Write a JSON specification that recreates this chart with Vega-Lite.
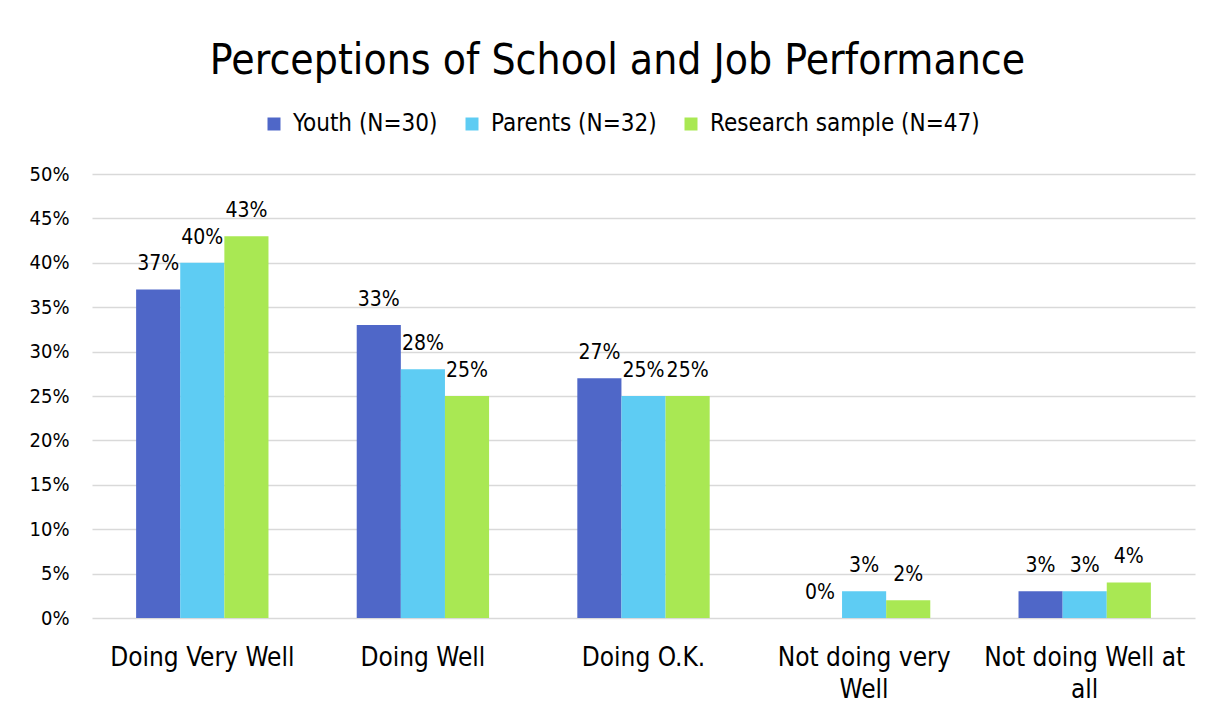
{
  "$schema": "https://vega.github.io/schema/vega-lite/v6.json",
  "width": 1103,
  "height": 444,
  "autosize": "none",
  "padding": {"left": 92, "top": 174, "right": 19, "bottom": 95},
  "background": "white",
  "title": {
    "text": "Perceptions of School and Job Performance",
    "fontSize": 42.3,
    "font": "DejaVu Sans Condensed, DejaVu Sans",
    "fontWeight": "normal",
    "color": "#000000",
    "anchor": "middle",
    "frame": "group",
    "dx": -26,
    "offset": 29
  },
  "data": {
    "values": [
      {"category": "Doing Very Well", "group": "Youth (N=30)", "value": 0.37},
      {"category": "Doing Very Well", "group": "Parents (N=32)", "value": 0.40},
      {"category": "Doing Very Well", "group": "Research sample (N=47)", "value": 0.43},
      {"category": "Doing Well", "group": "Youth (N=30)", "value": 0.33},
      {"category": "Doing Well", "group": "Parents (N=32)", "value": 0.28},
      {"category": "Doing Well", "group": "Research sample (N=47)", "value": 0.25},
      {"category": "Doing O.K.", "group": "Youth (N=30)", "value": 0.27},
      {"category": "Doing O.K.", "group": "Parents (N=32)", "value": 0.25},
      {"category": "Doing O.K.", "group": "Research sample (N=47)", "value": 0.25},
      {"category": "Not doing very|Well", "group": "Youth (N=30)", "value": 0.0},
      {"category": "Not doing very|Well", "group": "Parents (N=32)", "value": 0.03},
      {"category": "Not doing very|Well", "group": "Research sample (N=47)", "value": 0.02},
      {"category": "Not doing Well at|all", "group": "Youth (N=30)", "value": 0.03},
      {"category": "Not doing Well at|all", "group": "Parents (N=32)", "value": 0.03},
      {"category": "Not doing Well at|all", "group": "Research sample (N=47)", "value": 0.04}
    ]
  },
  "encoding": {
    "x": {
      "field": "category",
      "type": "nominal",
      "scale": {
        "domain": ["Doing Very Well", "Doing Well", "Doing O.K.", "Not doing very|Well", "Not doing Well at|all"],
        "paddingInner": 0.4,
        "paddingOuter": 0.2
      },
      "axis": {
        "title": null,
        "labelAngle": 0,
        "domain": false,
        "ticks": false,
        "labelFontSize": 26,
        "labelFont": "DejaVu Sans Condensed, DejaVu Sans",
        "labelColor": "#000000",
        "labelPadding": 26,
        "labelLineHeight": 32,
        "labelBaseline": "top",
        "labelLimit": 300,
        "labelExpr": "split(datum.label, '|')"
      }
    },
    "xOffset": {
      "field": "group",
      "type": "nominal",
      "scale": {
        "domain": ["Youth (N=30)", "Parents (N=32)", "Research sample (N=47)"],
        "paddingInner": 0,
        "paddingOuter": 0
      }
    },
    "y": {
      "field": "value",
      "type": "quantitative",
      "scale": {"domain": [0, 0.5]},
      "axis": {
        "title": null,
        "values": [0, 0.05, 0.1, 0.15, 0.2, 0.25, 0.3, 0.35, 0.4, 0.45, 0.5],
        "format": ".0%",
        "domain": false,
        "ticks": false,
        "grid": true,
        "gridColor": "#d9d9d9",
        "gridWidth": 1.5,
        "labelFontSize": 20,
        "labelFont": "DejaVu Sans Condensed, DejaVu Sans",
        "labelColor": "#000000",
        "labelPadding": 23
      }
    }
  },
  "layer": [
    {
      "mark": {"type": "bar"},
      "encoding": {
        "color": {
          "field": "group",
          "type": "nominal",
          "scale": {
            "domain": ["Youth (N=30)", "Parents (N=32)", "Research sample (N=47)"],
            "range": ["#4F67C8", "#5ECCF3", "#A9E853"]
          },
          "legend": {
            "title": null,
            "orient": "none",
            "direction": "horizontal",
            "legendX": 170,
            "legendY": -62,
            "padding": 0,
            "symbolType": "square",
            "symbolSize": 169,
            "symbolStrokeWidth": 0,
            "labelFontSize": 24,
            "labelFont": "DejaVu Sans Condensed, DejaVu Sans",
            "labelColor": "#000000",
            "labelOffset": 7,
            "columnPadding": 22,
            "labelLimit": 400
          }
        }
      }
    },
    {
      "mark": {
        "type": "text",
        "baseline": "alphabetic",
        "dy": -19,
        "fontSize": 21,
        "font": "DejaVu Sans Condensed, DejaVu Sans",
        "color": "#000000"
      },
      "encoding": {
        "text": {"field": "value", "type": "quantitative", "format": ".0%"}
      }
    }
  ],
  "config": {"view": {"stroke": null}}
}
